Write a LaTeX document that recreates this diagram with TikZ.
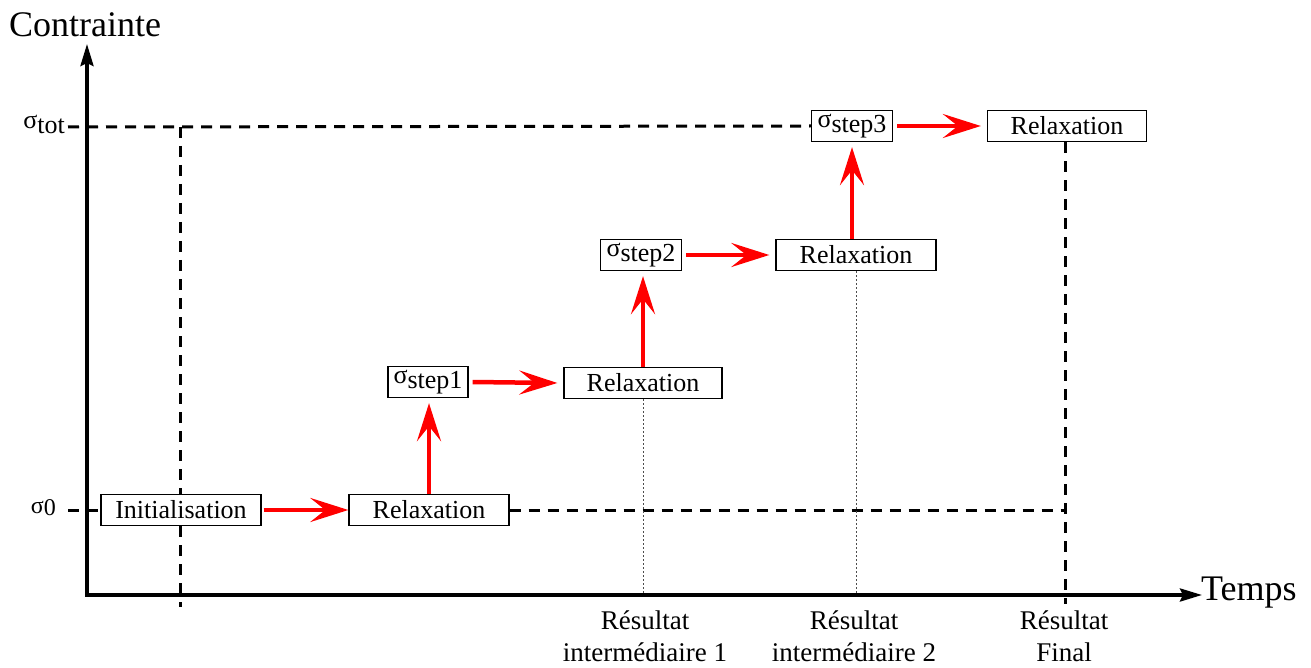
\documentclass[tikz,border=0pt]{standalone}
\usepackage{fontspec}
\setmainfont{Liberation Serif}
\newfontfamily\tms{Liberation Serif}
\usetikzlibrary{arrows.meta}
\tikzset{
  box/.style={draw=black, line width=1.3pt, fill=white, inner sep=0pt, minimum height=31pt, font=\tms\fontsize{26}{30}\selectfont},
  redarrow/.style={draw=red, line width=4.5pt, -{Stealth[length=38pt,width=24pt,inset=15pt]}},
  axis/.style={draw=black, line width=3.5pt, -{Stealth[length=22pt,width=13pt,inset=3pt]}},
  guide/.style={draw=black, line width=3pt, dash pattern=on 11pt off 8pt},
  thin guide/.style={draw=black!70, line width=0.9pt, dash pattern=on 2pt off 2pt},
  axlabel/.style={font=\tms\fontsize{36}{40}\selectfont, inner sep=0pt},
  sig/.style={font=\tms\fontsize{26}{30}\selectfont, inner sep=0pt},
  res/.style={font=\tms\fontsize{27}{32}\selectfont, align=center, inner sep=0pt}
}
\newcommand{\sg}[1]{σ\raisebox{-5pt}{#1}}
\begin{document}
\begin{tikzpicture}[x=1pt,y=-1pt]
\useasboundingbox (0,0) rectangle (1311,668);
% guide line end points
\coordinate (t0) at (68,127);
\coordinate (z0) at (68,510);
\coordinate (v1a) at (180,127);
\coordinate (v1b) at (180,607);
\coordinate (hr) at (1065,510);
\coordinate (vfb) at (1065,604);
% boxes
\node[box, minimum width=160pt] (init) at (181,510) {Initialisation};
\node[box, minimum width=160pt] (r1) at (429,510) {Relaxation};
\node[box, minimum width=80pt] (s1) at (428,382) {\sg{step1}};
\node[box, minimum width=158pt] (r2) at (643,383) {Relaxation};
\node[box, minimum width=81pt] (s2) at (641,255) {\sg{step2}};
\node[box, minimum width=160pt] (r3) at (856,255) {Relaxation};
\node[box, minimum width=81pt] (s3) at (852,126) {\sg{step3}};
\node[box, minimum width=159pt] (r4) at (1067,126) {Relaxation};
% dashed guides
\draw[guide] (t0) -- (s3.west);
\draw[guide] (z0) -- (init.west);
\draw[guide] (r1.east) -- (hr);
\draw[guide] (v1a) -- (init.north -| v1a);
\draw[guide] (init.south -| v1a) -- (v1b);
\draw[guide] (r4.south -| vfb) -- (vfb);
\coordinate (ax0) at (87,595);
\coordinate (axy) at (87,44);
\coordinate (axx) at (1202,595);
\draw[thin guide] (r2.south) -- (r2.south |- ax0);
\draw[thin guide] (r3.south) -- (r3.south |- ax0);
% axes
\draw[axis] (87,596.75) -- (axy);
\draw[axis] (85.25,595) -- (axx);
\node[axlabel] (cy) at (85,25) {Contrainte};
\node[axlabel, anchor=west] (cx) at (1201,593) {Temps};
\node[sig, anchor=east] (stot) at (65,124) {\sg{tot}};
\node[sig, anchor=east, font=\tms\fontsize{24}{28}\selectfont] (szero) at (56,508) {σ\raisebox{-2pt}{0}};
\node[res] (res1) at (645,636) {Résultat\\intermédiaire 1};
\node[res] (res2) at (854,636) {Résultat\\intermédiaire 2};
\node[res] (res3) at (1064,636) {Résultat\\Final};
% red arrows
\draw[redarrow] ([xshift=2pt]init.east) -- (r1.west);
\draw[redarrow, shorten >=5pt] (r1.north) -- (s1.south -| r1.north);
\draw[redarrow] ([xshift=4pt]s1.east) -- ([xshift=-6pt]r2.west);
\draw[redarrow, shorten >=5pt] (r2.north) -- (s2.south -| r2.north);
\draw[redarrow] ([xshift=4pt]s2.east) -- ([xshift=-6pt]r3.west);
\draw[redarrow, shorten >=5pt] (r3.north -| s3.south) -- (s3.south);
\draw[redarrow] ([xshift=4pt]s3.east) -- ([xshift=-6pt]r4.west);
\end{tikzpicture}
\end{document}
